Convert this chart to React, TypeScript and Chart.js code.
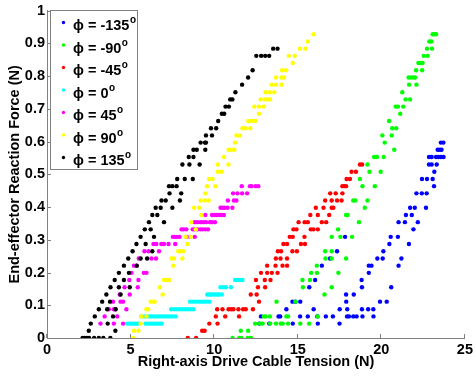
import { useEffect, useRef } from 'react';
import { Chart, registerables } from 'chart.js';

Chart.register(...registerables);

type Rows = [number, number[]][];

// ---- labels, colours, ticks ----
const seriesLabels = ['ϕ = -135', 'ϕ = -90', 'ϕ = -45', 'ϕ = 0', 'ϕ = 45', 'ϕ = 90', 'ϕ = 135'];
const seriesColors = ['#0000ff', '#00ff00', '#ff0000', '#00ffff', '#ff00ff', '#ffff00', '#000000'];
const xTickLabels = ['0', '5', '10', '15', '20', '25'];
const yTickLabels = ['0', '0.1', '0.2', '0.3', '0.4', '0.5', '0.6', '0.7', '0.8', '0.9', '1'];
const xTitle = 'Right-axis Drive Cable Tension (N)';
const yTitle = 'End-effector Reaction Force (N)';

// ---- data: [force (N), tensions (N) observed at that force] ----
const phiM135: Rows = [
  [0.044, [12.7, 13.3, 14.7, 16.2, 17.5]],
  [0.066, [12.8, 13.85, 13.95, 15.14, 15.6, 16.17, 16.68, 17.1, 17.95, 18.06, 18.32, 18.52, 18.87, 19.53]],
  [0.088, [14.32, 15.95, 17.51, 17.96, 18.84, 19.21, 19.52]],
  [0.111, [14.68, 14.86, 15.15, 17.9, 19.92, 20.32]],
  [0.133, [17.89, 18.35]],
  [0.155, [15.69, 18.84, 20.59]],
  [0.177, [16.04, 18.82]],
  [0.199, [19.25]],
  [0.221, [16.44, 19.25, 19.41, 21.03]],
  [0.243, [16.93, 19.76, 20.08, 21.2]],
  [0.265, [17.35, 20.12]],
  [0.287, [20.48, 21.65]],
  [0.309, [17.83, 20.56, 20.99]],
  [0.332, [21.92]],
  [0.354, [21.03, 21.41, 22.18]],
  [0.376, [21.47, 21.82]],
  [0.398, [21.72, 22.0, 22.67]],
  [0.442, [22.1, 22.42, 22.71]],
  [0.464, [23.15]],
  [0.486, [22.43, 22.73, 23.07]],
  [0.508, [23.17]],
  [0.53, [22.85, 23.01, 23.31]],
  [0.553, [22.85, 23.01, 23.27, 23.41, 23.56, 23.72]],
  [0.575, [23.37, 23.49, 23.6]],
  [0.597, [23.56, 23.71]],
];

const phiM90: Rows = [
  [0, [11.1, 11.5, 11.61, 12.0, 12.14, 12.2]],
  [0.022, [11.59, 12.03]],
  [0.044, [12.45, 12.74, 12.9, 13.35, 13.7, 13.98, 14.1, 14.42, 15.15, 15.68]],
  [0.066, [12.97, 13.08, 13.33, 14.32, 14.42, 16.2]],
  [0.111, [13.73, 14.86]],
  [0.133, [16.6]],
  [0.155, [15.31, 17.03]],
  [0.177, [15.28, 15.73]],
  [0.199, [15.8, 16.15, 17.43]],
  [0.221, [16.14]],
  [0.243, [16.66, 17.03, 17.89]],
  [0.265, [16.64, 17.03]],
  [0.309, [17.03, 17.55, 18.25]],
  [0.332, [17.41]],
  [0.354, [18.66]],
  [0.376, [17.89, 17.98]],
  [0.398, [19.01]],
  [0.42, [18.32, 18.44, 19.17]],
  [0.464, [18.87, 19.61]],
  [0.486, [18.72]],
  [0.508, [19.29, 19.96]],
  [0.53, [19.17]],
  [0.553, [19.57, 19.74, 20.14]],
  [0.575, [20.77]],
  [0.597, [20.2]],
  [0.619, [20.06, 20.62]],
  [0.641, [20.65, 20.89]],
  [0.663, [20.46]],
  [0.685, [21.13]],
  [0.707, [20.86, 20.99, 21.31]],
  [0.729, [21.45, 21.72]],
  [0.751, [21.25]],
  [0.774, [21.66, 22.1]],
  [0.796, [21.63, 21.78, 21.94, 22.02]],
  [0.818, [22.08, 22.44]],
  [0.84, [22.22, 22.34, 22.46]],
  [0.862, [22.54, 22.77]],
  [0.884, [22.73, 23.03]],
  [0.906, [22.87, 22.99]],
  [0.928, [23.07, 23.17, 23.27]],
];

const phiM45: Rows = [
  [0, [8.42, 8.92]],
  [0.022, [9.28, 9.43]],
  [0.044, [9.71, 10.2]],
  [0.066, [10.1, 10.66, 11.49]],
  [0.088, [10.18, 10.5, 10.86, 11.02, 11.15, 11.45, 11.73, 11.89, 12.32]],
  [0.111, [12.68]],
  [0.133, [12.19, 12.54]],
  [0.155, [12.62, 13.05]],
  [0.177, [12.5, 13.03, 13.37]],
  [0.199, [12.8, 13.17, 13.45, 13.79]],
  [0.221, [13.17, 13.67, 14.09, 14.36]],
  [0.243, [13.69, 13.97, 14.36]],
  [0.265, [13.81, 14.0, 14.68, 14.95]],
  [0.287, [14.14, 14.36, 15.19, 15.43]],
  [0.309, [14.52, 14.7, 15.4]],
  [0.332, [14.74, 14.92, 15.78, 15.94, 16.2]],
  [0.354, [15.05, 15.41, 15.6, 16.44, 16.7]],
  [0.376, [15.75, 16.2, 16.88]],
  [0.398, [16.08, 16.54, 17.03, 17.13]],
  [0.42, [16.64, 17.03, 17.35, 17.62]],
  [0.442, [16.94, 17.27, 17.67]],
  [0.464, [17.67, 17.78, 17.89]],
  [0.486, [17.92, 18.12]],
  [0.508, [18.22, 18.48]],
  [0.53, [18.72, 18.85]],
];

const phi0: Rows = [
  [0.044, [4.8, 4.92, 5.04, 5.16, 5.28, 5.4, 5.52, 5.9, 6.02, 6.14, 6.27, 6.38, 6.5, 6.62, 6.74, 6.86]],
  [0.066, [5.65, 5.85, 6.0, 6.15, 6.3, 6.45, 6.6, 6.75, 6.9, 7.05, 7.2, 7.35, 7.5, 7.7]],
  [0.088, [7.43, 7.6, 7.77, 7.93, 8.1, 8.26, 8.43, 8.6, 8.75]],
  [0.111, [8.56, 8.76, 8.92, 9.08, 9.24, 9.39, 9.55, 9.71]],
  [0.133, [9.59, 9.71, 9.83, 9.95, 10.07, 10.2, 10.3, 10.46]],
  [0.155, [10.38, 10.54, 10.7, 11.0]],
  [0.177, [11.25, 11.39, 11.53, 11.69]],
];

const phi45: Rows = [
  [0.044, [3.2, 4.0, 4.55]],
  [0.066, [3.45, 4.2]],
  [0.088, [3.7, 4.0, 4.1, 4.75]],
  [0.111, [3.95, 4.4, 4.55]],
  [0.133, [4.35, 4.95]],
  [0.155, [4.64, 5.43]],
  [0.177, [4.92, 5.47]],
  [0.199, [5.05, 5.79, 5.95]],
  [0.221, [5.2, 5.35]],
  [0.243, [5.49, 6.25, 6.52]],
  [0.265, [5.83, 6.07, 6.7]],
  [0.287, [6.37, 6.54, 6.84, 7.0, 7.27, 7.67]],
  [0.309, [7.53, 7.65, 7.77, 7.93, 8.33, 8.56, 8.84]],
  [0.332, [8.05, 8.16, 8.33, 8.72, 8.84, 9.0, 9.17, 9.31, 9.47, 9.63]],
  [0.354, [8.84, 9.0, 9.19, 9.35, 9.51, 9.75, 9.87, 10.05]],
  [0.376, [9.47, 9.87, 10.02, 10.14, 10.3, 10.42, 10.58]],
  [0.398, [10.38, 10.5, 10.62, 10.8, 11.09]],
  [0.42, [10.82, 11.18, 11.33]],
  [0.442, [11.13, 11.39, 11.67, 11.97]],
  [0.464, [11.65, 12.14, 12.24, 12.48, 12.64]],
];

const phi90: Rows = [
  [0, [5.15]],
  [0.022, [5.21, 5.47]],
  [0.044, [5.6]],
  [0.066, [5.65, 5.95]],
  [0.088, [5.95, 6.05]],
  [0.111, [6.2, 6.35, 6.44]],
  [0.133, [6.92]],
  [0.155, [6.75]],
  [0.177, [7.0, 7.15, 7.3]],
  [0.221, [7.55]],
  [0.243, [7.45, 7.6, 8.1]],
  [0.265, [7.85, 7.95, 8.15]],
  [0.287, [8.4]],
  [0.309, [8.3, 8.6]],
  [0.332, [8.9]],
  [0.354, [8.63]],
  [0.376, [9.23]],
  [0.398, [8.8, 9.1]],
  [0.42, [9.2, 9.45, 9.67]],
  [0.442, [9.47]],
  [0.464, [9.57, 10.07]],
  [0.486, [9.69, 9.9]],
  [0.508, [10.22, 10.46]],
  [0.53, [10.22, 10.86]],
  [0.553, [10.58]],
  [0.575, [10.86, 11.03, 11.21]],
  [0.597, [11.25]],
  [0.619, [11.33, 11.53]],
  [0.641, [11.69, 11.85, 12.16]],
  [0.663, [12.04, 12.24, 12.46]],
  [0.685, [12.68]],
  [0.707, [12.4, 12.68, 12.96]],
  [0.729, [12.78, 13.03, 13.19, 13.35]],
  [0.751, [13.07, 13.33, 13.59]],
  [0.774, [13.43, 13.7, 14.03]],
  [0.796, [13.7, 14.03, 14.18]],
  [0.818, [14.06, 14.3]],
  [0.84, [14.7]],
  [0.862, [14.46, 14.82]],
  [0.884, [15.13, 15.45]],
  [0.906, [15.6]],
  [0.928, [15.95]],
];

const phi135: Rows = [
  [0, [2.13, 2.25, 2.39, 2.52, 2.82, 3.1, 3.37, 3.79]],
  [0.022, [2.5, 4.09]],
  [0.044, [2.62, 3.63]],
  [0.066, [2.86, 3.95]],
  [0.088, [3.1, 3.6, 4.1]],
  [0.111, [3.3, 3.77]],
  [0.133, [3.55, 4.4]],
  [0.155, [3.8, 4.3, 4.95]],
  [0.177, [4.05, 4.6]],
  [0.199, [4.3, 4.9]],
  [0.221, [4.6, 5.37]],
  [0.243, [4.86, 5.6, 5.99]],
  [0.265, [5.12, 6.3]],
  [0.287, [5.35, 5.9]],
  [0.309, [5.6, 6.4]],
  [0.332, [5.85, 6.2]],
  [0.354, [6.1, 7.0]],
  [0.376, [6.3, 6.6]],
  [0.398, [6.5, 6.8, 7.5]],
  [0.42, [6.85, 7.1, 7.95]],
  [0.442, [7.33, 8.03]],
  [0.464, [7.3, 7.5, 7.75]],
  [0.486, [7.79, 8.24, 8.72]],
  [0.53, [8.1, 8.52, 9.13]],
  [0.553, [8.48, 8.76]],
  [0.575, [8.76, 8.96, 9.47]],
  [0.597, [9.19, 9.45, 9.51]],
  [0.619, [9.51, 9.87]],
  [0.641, [9.81, 10.12]],
  [0.663, [10.24]],
  [0.685, [10.46, 10.6]],
  [0.707, [10.68, 10.88]],
  [0.729, [10.96, 11.09]],
  [0.751, [11.27]],
  [0.774, [11.67]],
  [0.796, [12.03]],
  [0.818, [12.3]],
  [0.862, [12.52, 12.81, 13.05, 13.29]],
  [0.884, [13.53, 13.79]],
];

const seriesRows: Rows[] = [phiM135, phiM90, phiM45, phi0, phi45, phi90, phi135];

const FONT = "'Liberation Sans', Arial, Helvetica, sans-serif";
const AXIS_GRAY = '#808080';

function toPoints(rows: Rows) {
  const pts: { x: number; y: number }[] = [];
  rows.forEach(([y, xs]) => xs.forEach((x) => pts.push({ x, y })));
  return pts;
}

const inwardTicks = {
  id: 'inwardTicks',
  beforeDatasetsDraw(chart: any) {
    const { ctx, chartArea, scales } = chart;
    ctx.save();
    ctx.strokeStyle = AXIS_GRAY;
    ctx.lineWidth = 1;
    ctx.beginPath();
    scales.x.ticks.forEach((t: any) => {
      const px = Math.round(scales.x.getPixelForValue(t.value)) - 0.5;
      ctx.moveTo(px, chartArea.bottom);
      ctx.lineTo(px, chartArea.bottom - 4);
    });
    scales.y.ticks.forEach((t: any) => {
      const py = Math.round(scales.y.getPixelForValue(t.value)) + 0.5;
      ctx.moveTo(chartArea.left, py);
      ctx.lineTo(chartArea.left + 4, py);
    });
    ctx.stroke();
    ctx.restore();
  },
};

const boxLegend = {
  id: 'boxLegend',
  afterDraw(chart: any) {
    const { ctx } = chart;
    const left = 50.5, top = 10.5, w = 87, h = 159;
    ctx.save();
    ctx.fillStyle = '#ffffff';
    ctx.fillRect(left, top, w, h);
    ctx.strokeStyle = AXIS_GRAY;
    ctx.lineWidth = 1;
    ctx.strokeRect(left, top, w, h);
    seriesLabels.forEach((label, i) => {
      const base = 30 + i * 22.5;
      ctx.fillStyle = seriesColors[i];
      ctx.beginPath();
      ctx.arc(63.5, base - 7.5, 1.7, 0, Math.PI * 2);
      ctx.fill();
      ctx.fillStyle = '#000';
      ctx.textBaseline = 'alphabetic';
      ctx.textAlign = 'left';
      ctx.font = `bold 14.5px ${FONT}`;
      ctx.fillText(label, 73, base);
      const tw = ctx.measureText(label).width;
      ctx.font = `bold 10px ${FONT}`;
      ctx.fillText('o', 73 + tw + 0.5, base - 7);
    });
    ctx.restore();
  },
};

export default function App() {
  const ref = useRef<HTMLCanvasElement | null>(null);
  useEffect(() => {
    if (!ref.current) return;
    const chart = new Chart(ref.current, {
      type: 'scatter',
      data: {
        datasets: seriesRows.map((rows, i) => ({
          label: seriesLabels[i] + '°',
          data: toPoints(rows),
          backgroundColor: seriesColors[i],
          borderColor: seriesColors[i],
          pointRadius: 2.2,
          pointBorderWidth: 0,
          showLine: false,
          order: seriesRows.length - 1 - i,
        })),
      },
      options: {
        animation: false,
        responsive: false,
        devicePixelRatio: 1,
        events: [],
        layout: { padding: { top: 6, right: 9, left: 0, bottom: 0 } },
        plugins: { legend: { display: false }, tooltip: { enabled: false } },
        scales: {
          x: {
            type: 'linear',
            min: 0,
            max: 25,
            afterFit: (s: any) => { s.height = 39; },
            grid: { display: false, drawTicks: false },
            border: { display: true, color: AXIS_GRAY, width: 1 },
            ticks: {
              stepSize: 5,
              autoSkip: false,
              maxRotation: 0,
              padding: 3,
              color: '#000',
              font: { family: FONT, size: 14.5, weight: 'bold' },
              callback: (_v: any, i: number) => xTickLabels[i],
            },
            title: {
              display: true,
              text: xTitle,
              color: '#000',
              font: { family: FONT, size: 14.5, weight: 'bold' },
              padding: { top: 0, bottom: 6.5 },
            },
          },
          y: {
            type: 'linear',
            min: 0,
            max: 1,
            afterFit: (s: any) => { s.width = 47; },
            grid: { display: false, drawTicks: false },
            border: { display: true, color: AXIS_GRAY, width: 1 },
            ticks: {
              stepSize: 0.1,
              autoSkip: false,
              padding: 2,
              color: '#000',
              font: { family: FONT, size: 14.5, weight: 'bold' },
              callback: (_v: any, i: number) => yTickLabels[i],
            },
            title: {
              display: true,
              text: yTitle,
              color: '#000',
              font: { family: FONT, size: 14.5, weight: 'bold' },
              padding: { top: 6.3, bottom: 0 },
            },
          },
        },
      },
      plugins: [inwardTicks, boxLegend],
    } as any);
    return () => chart.destroy();
  }, []);
  return (
    <div style={{ position: 'fixed', left: 0, top: 0, width: 476, height: 377, background: '#fff' }}>
      <canvas ref={ref} width={476} height={377} style={{ display: 'block', width: 476, height: 377 }} />
    </div>
  );
}
